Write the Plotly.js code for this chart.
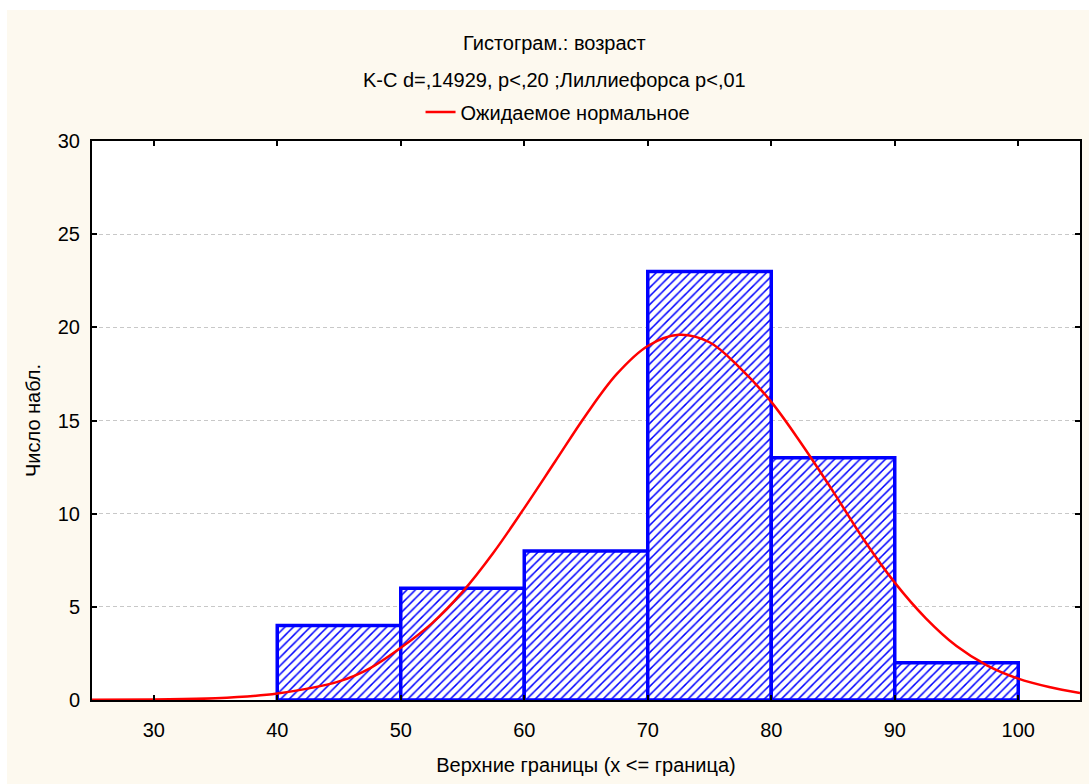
<!DOCTYPE html>
<html>
<head>
<meta charset="utf-8">
<script src="https://cdn.plot.ly/plotly-3.0.1.min.js"></script>
<style>
  html, body { margin: 0; padding: 0; background: #ffffff; }
  #chart { position: absolute; left: 7px; top: 10px; width: 1082px; height: 774px; }
</style>
</head>
<body>
<div id="chart"></div>
<script>
// Histogram: upper bin bounds and counts
const binUpper = [50, 60, 70, 80, 90, 100];
const binCounts = [4, 6, 8, 23, 13, 2];
const binWidth = 10;

// Expected normal curve
const curveX = [25, 30, 35, 40, 45, 47.5, 50, 52.5, 55, 57.5, 60, 62.5, 65, 67.5, 70, 72.5, 75, 77.5, 80, 82.5, 85, 87.5, 90, 92.5, 95, 97.5, 100, 102.5, 105];
const curveY = [0.01, 0.03, 0.09, 0.35, 1.0, 1.7, 2.8, 4.1, 5.8, 7.9, 10.3, 12.8, 15.3, 17.5, 19.0, 19.6, 19.2, 17.8, 16.0, 13.7, 11.2, 8.6, 6.3, 4.4, 2.9, 1.85, 1.15, 0.7, 0.38];

const titleLine1 = "Гистограм.: возраст";
const titleLine2 = "K-C d=,14929, p<,20 ;Лиллиефорса p<,01";
const legendName = "Ожидаемое нормальное";
const xTitle = "Верхние границы (x <= граница)";
const yTitle = "Число набл.";

const FONT = "Liberation Sans, Arial, sans-serif";
const FS = 20;

const barTrace = {
  type: "bar",
  x: binUpper,
  y: binCounts,
  width: binUpper.map(() => binWidth),
  offset: -binWidth,
  showlegend: false,
  hoverinfo: "x+y",
  marker: {
    color: "#ffffff",
    line: { color: "#0000ff", width: 3.5 },
    pattern: { shape: "/", fgcolor: "#0000ff", bgcolor: "#ffffff", size: 6, solidity: 0.25 }
  }
};

const curveTrace = {
  type: "scatter",
  mode: "lines",
  x: curveX,
  y: curveY,
  name: legendName,
  line: { color: "#ff0000", width: 2.5, shape: "spline", smoothing: 1 },
  cliponaxis: true
};

const layout = {
  width: 1082,
  height: 774,
  paper_bgcolor: "#fdf9ef",
  plot_bgcolor: "#ffffff",
  margin: { l: 85, r: 9, t: 131, b: 84 },
  font: { family: FONT, size: FS, color: "#000000" },
  bargap: 0,
  showlegend: true,
  legend: {
    orientation: "h",
    x: 0.4717, xanchor: "center",
    y: 1.052, yanchor: "middle",
    bgcolor: "rgba(0,0,0,0)",
    font: { family: FONT, size: FS, color: "#000000" }
  },
  xaxis: {
    range: [25, 105],
    tick0: 30, dtick: 10,
    ticks: "inside", ticklen: 5, tickwidth: 2, tickcolor: "#000000",
    showline: true, linecolor: "#000000", linewidth: 2, mirror: "allticks",
    showgrid: false, zeroline: false,
    ticklabelstandoff: 11,
    tickfont: { family: FONT, size: FS },
    title: { text: xTitle, font: { family: FONT, size: FS }, standoff: 18 }
  },
  yaxis: {
    range: [0, 30],
    tick0: 0, dtick: 5,
    ticks: "inside", ticklen: 5, tickwidth: 2, tickcolor: "#000000",
    showline: true, linecolor: "#000000", linewidth: 2, mirror: "allticks",
    showgrid: true, gridcolor: "#c8c8c8", gridwidth: 1, griddash: "4px,3px",
    zeroline: false,
    ticklabelstandoff: 6,
    tickfont: { family: FONT, size: FS },
    title: { text: yTitle, font: { family: FONT, size: FS }, standoff: 12 }
  },
  annotations: [
    { text: titleLine1, xref: "paper", yref: "paper", x: 0.4686, y: 1.175, xanchor: "center", yanchor: "middle", showarrow: false, font: { family: FONT, size: FS } },
    { text: titleLine2, xref: "paper", yref: "paper", x: 0.4686, y: 1.109, xanchor: "center", yanchor: "middle", showarrow: false, font: { family: FONT, size: FS } }
  ]
};

Plotly.newPlot("chart", [barTrace, curveTrace], layout, { displayModeBar: false, staticPlot: true });
</script>
</body>
</html>
